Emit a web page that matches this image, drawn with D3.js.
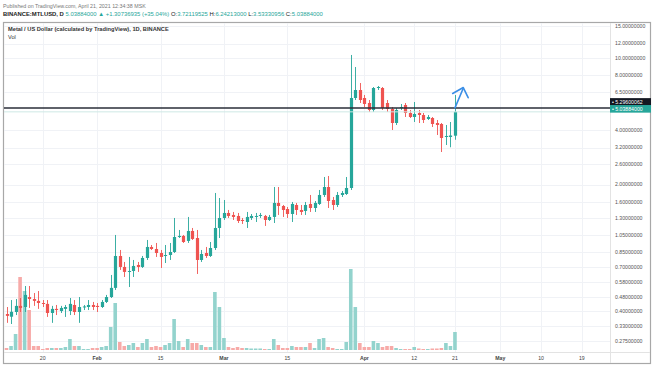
<!DOCTYPE html>
<html><head><meta charset="utf-8">
<script src="https://cdn.jsdelivr.net/npm/d3@7"></script>
<style>body{margin:0;background:#fff}svg{display:block;font-family:"Liberation Sans",Arial,sans-serif}</style>
</head><body><svg id="c" width="654" height="366"></svg>
<script>
const startDate = "2021-01-12";
const open = [.386,.373,.396,.428,.422,.479,.467,.456,.444,.439,
.391,.412,.401,.412,.401,.433,.396,.422,.422,.433,
.428,.422,.450,.479,.538,.807,.702,.659,.667,.720,
.702,.787,.905,.882,.838,.807,.817,.849,1.027,1.041,
.977,1.109,1.014,.767,.838,.807,.893,1.152,1.308,1.394,
1.359,1.342,1.275,1.243,1.308,1.333,1.342,1.342,1.275,1.325,
1.583,1.523,1.466,1.376,1.543,1.448,1.430,1.563,1.485,1.563,
1.752,1.939,1.644,1.543,1.752,1.774,1.915,6.009,6.650,6.009,
5.639,5.159,6.822,6.822,5.639,5.225,4.373,5.292,5.497,4.966,
4.720,4.966,4.841,4.601,4.660,4.373,4.318,3.661,3.661,3.72119525];
const high = [.422,.461,.467,.473,.551,.551,.504,.517,.461,.461,
.428,.433,.428,.433,.473,.461,.479,.433,.461,.450,
.444,.461,.492,.634,1.054,.871,.748,.797,.767,.748,
.807,.989,.928,.952,.871,.928,.952,1.308,1.123,1.054,
1.325,1.152,1.123,.871,.905,.964,1.797,1.686,1.644,1.448,
1.412,1.394,1.308,1.412,1.376,1.394,1.394,1.359,1.359,1.939,
1.939,1.543,1.504,1.603,1.583,1.543,1.603,1.752,1.623,1.867,
2.202,2.230,1.708,1.820,1.843,2.202,10.38,8.910,7.270,6.243,
5.857,6.909,6.998,6.909,5.857,5.359,5.292,5.568,5.639,5.159,
5.711,5.159,4.966,4.841,4.720,4.543,4.373,4.264,4.429,6.24213];
const low = [.345,.340,.381,.396,.396,.417,.428,.412,.422,.372,
.345,.381,.391,.372,.381,.381,.345,.406,.406,.406,
.396,.417,.444,.473,.524,.676,.618,.544,.618,.659,
.693,.767,.871,.797,.693,.738,.767,.838,1.014,.952,
.952,.989,.642,.748,.787,.797,.871,1.014,1.275,1.308,
1.275,1.227,1.212,1.152,1.275,1.243,1.308,1.182,1.259,1.227,
1.359,1.325,1.308,1.243,1.359,1.359,1.359,1.412,1.412,1.543,
1.708,1.485,1.448,1.504,1.708,1.752,1.867,5.857,5.639,5.359,
5.029,5.029,6.650,5.159,5.029,4.001,4.264,5.159,4.720,4.660,
4.429,4.373,4.373,4.543,4.157,3.755,3.025,3.307,3.212,3.53330956];
const close = [.377,.397,.428,.417,.492,.467,.456,.444,.439,.391,
.412,.406,.417,.422,.439,.396,.422,.425,.433,.422,
.422,.450,.479,.538,.807,.702,.659,.667,.711,.702,
.787,.905,.882,.838,.797,.817,.849,1.027,1.041,.964,
1.109,1.002,.767,.828,.807,.893,1.152,1.308,1.394,1.342,
1.325,1.259,1.259,1.325,1.342,1.342,1.359,1.275,1.325,1.583,
1.523,1.448,1.376,1.563,1.448,1.412,1.543,1.485,1.583,1.752,
1.939,1.623,1.543,1.752,1.797,1.915,6.009,6.650,5.857,5.568,
5.159,6.822,6.909,5.292,5.225,4.373,5.159,5.359,4.966,4.720,
4.903,4.841,4.543,4.720,4.318,4.264,3.615,3.708,3.731,5.03884];
const volume = [0.2,0.4,1.6,7.3,5.9,4.0,0.4,0.4,0.1,0.2,
0.2,0.2,0.2,0.3,1.1,0.4,0.4,0.1,0.1,0.2,
0.2,0.3,0.4,2.3,4.7,0.8,0.4,0.5,0.7,0.3,
0.7,1.1,0.3,0.4,0.3,0.5,0.7,3.1,0.9,0.3,
1.1,0.7,0.7,0.5,0.3,0.3,5.8,4.3,1.2,0.3,
0.2,0.3,0.2,0.2,0.15,0.15,0.15,0.1,0.1,1.1,
0.5,0.2,0.2,0.4,0.3,0.3,0.3,0.7,0.2,1.1,
1.2,0.3,0.2,0.1,0.1,0.8,8.1,4.3,0.7,0.3,
0.3,0.9,0.7,0.3,0.4,0.4,0.2,0.1,0.1,0.1,
0.3,0.15,0.1,0.1,0.15,0.15,0.2,0.7,0.4,1.8];
const priceTicks = [15,12,10,8,6.5,4,3.2,2.6,2,1.6,1.3,1.05,0.85,0.7,0.58,0.48,0.4,0.33,0.275];
const timeTickDates = ["2021-01-20","2021-02-01","2021-02-15","2021-03-01","2021-03-15","2021-04-01","2021-04-12","2021-04-21","2021-05-01","2021-05-10","2021-05-19"];
const timeTickLabels = ["20","Feb","15","Mar","15","Apr","12","21","May","10","19"];
const timeTickIsMonth = [false,true,false,true,false,true,false,false,true,false,false];
const levelPrice = 5.29600062;
const lastPrice = 5.03884;
// hand-drawn arrow annotation (date, price)
const arrowShaft = [["2021-04-21T00:00Z",5.30],["2021-04-22T20:00Z",6.80]];
const arrowHead = [["2021-04-20T12:00Z",6.36],["2021-04-22T20:00Z",6.86],["2021-04-23T22:00Z",6.03]];

const UP = "#26a69a", DN = "#ef5350", UPV = "#93d3cd", DNV = "#f7aaa8";
const svg = d3.select("#c");
const parse = s => new Date(s.length > 10 ? s : s + "T00:00:00Z");
const start = parse(startDate);
const data = open.map((o, i) => ({date: d3.utcDay.offset(start, i), o, h: high[i], l: low[i], c: close[i], v: volume[i]}));

const x = d3.scaleUtc().domain([start, parse("2021-05-19")]).range([6.5, 581.8]);
const y = d3.scaleLog().domain([15, 0.275]).range([26, 340.7]);
const yv = d3.scaleLinear().domain([0, d3.max(volume)]).range([350, 269]);

const plotR = 610, plotB = 352, plotT = 23, plotL = 4;

// header
svg.append("text").attr("x", 3).attr("y", 7.5).attr("font-size", 5.3).attr("fill", "#777")
  .text("Published on TradingView.com, April 21, 2021 12:34:38 MSK");
const h2 = svg.append("text").attr("x", 3).attr("y", 16).attr("font-size", 5.9).attr("fill", "#333");
const parts = [["BINANCE:MTLUSD, D ", "#222", 700], ["5.03884000 \u25B2 +1.30736935 (+35.04%) ", UP, 400],
  ["O:", "#222", 400], ["3.72119525 ", UP, 400], ["H:", "#222", 400], ["6.24213000 ", UP, 400],
  ["L:", "#222", 400], ["3.53330956 ", UP, 400], ["C:", "#222", 400], ["5.03884000", UP, 400]];
parts.forEach(p => h2.append("tspan").attr("fill", p[1]).attr("font-weight", p[2]).text(p[0]));

// panel border
svg.append("rect").attr("x", 3.5).attr("y", 22.5).attr("width", 647).attr("height", 341)
  .attr("fill", "none").attr("stroke", "#a8a8a8").attr("stroke-width", 1.2);

// grid
const grid = svg.append("g");
grid.selectAll(".hg").data(priceTicks).join("line")
  .attr("x1", plotL).attr("x2", plotR).attr("y1", d => Math.round(y(d)) + 0.5).attr("y2", d => Math.round(y(d)) + 0.5)
  .attr("stroke", "#f0f2f6").attr("stroke-width", 1);
grid.selectAll(".vg").data(timeTickDates).join("line")
  .attr("y1", plotT).attr("y2", plotB).attr("x1", d => Math.round(x(parse(d))) + 0.5).attr("x2", d => Math.round(x(parse(d))) + 0.5)
  .attr("stroke", "#f0f2f6").attr("stroke-width", 1);

// axis separators
svg.append("line").attr("x1", plotR + 0.5).attr("x2", plotR + 0.5).attr("y1", plotT).attr("y2", 363).attr("stroke", "#e3e3e3");
svg.append("line").attr("x1", plotL).attr("x2", 650).attr("y1", plotB + 0.5).attr("y2", plotB + 0.5).attr("stroke", "#e3e3e3");

svg.append("clipPath").attr("id", "pc").append("rect").attr("x", plotL).attr("y", plotT).attr("width", plotR - plotL).attr("height", plotB - plotT);
const plot = svg.append("g").attr("clip-path", "url(#pc)");

// volume
const vw = 3.6;
plot.selectAll(".vol").data(data).join("rect")
  .attr("x", d => x(d.date) - vw / 2).attr("width", vw)
  .attr("y", d => yv(d.v)).attr("height", d => yv(0) - yv(d.v))
  .attr("fill", d => d.c >= d.o ? UPV : DNV);

// candles
const cw = 3.2;
plot.selectAll(".wick").data(data).join("line")
  .attr("x1", d => Math.round(x(d.date)) + 0.5).attr("x2", d => Math.round(x(d.date)) + 0.5)
  .attr("y1", d => y(d.h)).attr("y2", d => y(d.l))
  .attr("stroke", d => d.c >= d.o ? UP : DN).attr("stroke-width", 0.9);
plot.selectAll(".body").data(data).join("rect")
  .attr("x", d => Math.round(x(d.date)) + 0.5 - cw / 2).attr("width", cw)
  .attr("y", d => Math.min(y(d.o), y(d.c)))
  .attr("height", d => Math.max(1, Math.abs(y(d.o) - y(d.c))))
  .attr("fill", d => d.c >= d.o ? UP : DN);

// last price line (faint) and horizontal level
plot.append("line").attr("x1", plotL).attr("x2", plotR).attr("y1", y(lastPrice)).attr("y2", y(lastPrice))
  .attr("stroke", "#cfe9e6").attr("stroke-width", 1);
plot.append("line").attr("x1", plotL).attr("x2", plotR).attr("y1", y(levelPrice)).attr("y2", y(levelPrice))
  .attr("stroke", "#2a2e39").attr("stroke-width", 1.6);

// arrow
const ln = d3.line().x(d => x(parse(d[0]))).y(d => y(d[1]));
svg.append("path").attr("d", ln(arrowShaft)).attr("fill", "none").attr("stroke", "#3a8ee6").attr("stroke-width", 1.6).attr("stroke-linecap", "round");
svg.append("path").attr("d", ln(arrowHead)).attr("fill", "none").attr("stroke", "#3a8ee6").attr("stroke-width", 1.6).attr("stroke-linecap", "round").attr("stroke-linejoin", "round");

// price axis labels
svg.selectAll(".pl").data(priceTicks).join("text")
  .attr("x", 615).attr("y", d => y(d)).attr("dy", "0.35em")
  .attr("font-size", 5.2).attr("fill", "#555").text(d => d3.format(".8f")(d));

// price markers
const lvlY = y(levelPrice) - 6, lastY = y(lastPrice) - 3;
svg.append("rect").attr("x", 610).attr("y", lvlY - 3.8).attr("width", 41).attr("height", 7.6).attr("fill", "#131722");
svg.append("text").attr("x", 612).attr("y", lvlY).attr("dy", "0.35em").attr("font-size", 5.2).attr("fill", "#fff").text("\u2022 " + d3.format(".8f")(levelPrice));
svg.append("rect").attr("x", 610).attr("y", lastY - 3.8).attr("width", 41).attr("height", 7.6).attr("fill", UP);
svg.append("text").attr("x", 612).attr("y", lastY).attr("dy", "0.35em").attr("font-size", 5.2).attr("fill", "#fff").text("\u2022 " + d3.format(".8f")(lastPrice));

// time axis labels
svg.selectAll(".tl").data(timeTickDates).join("text")
  .attr("x", d => x(parse(d))).attr("y", 358.5).attr("dy", "0.35em").attr("text-anchor", "middle")
  .attr("font-size", 5.2).attr("fill", "#444")
  .attr("font-weight", (d, i) => timeTickIsMonth[i] ? 700 : 400)
  .text((d, i) => timeTickLabels[i]);

// legend
svg.append("text").attr("x", 8).attr("y", 31).attr("font-size", 5.7).attr("font-weight", 700).attr("fill", "#333")
  .text("Metal / US Dollar (calculated by TradingView), 1D, BINANCE");
svg.append("text").attr("x", 8).attr("y", 39).attr("font-size", 5.6).attr("fill", "#333").text("Vol");
</script></body></html>
